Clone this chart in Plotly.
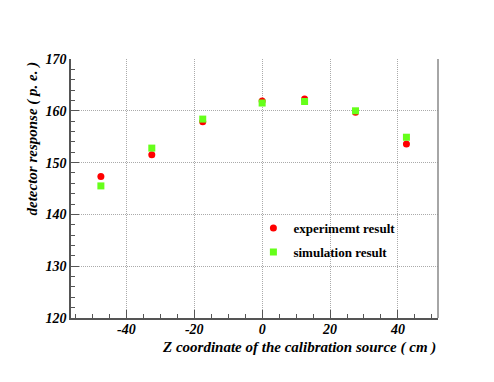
import plotly.graph_objects as go

z_pos = [-47.5, -32.5, -17.5, 0.0, 12.5, 27.5, 42.5]
experiment = [147.3, 151.5, 157.9, 161.9, 162.3, 159.7, 153.6]
simulation = [145.5, 152.8, 158.4, 161.5, 161.8, 160.0, 154.9]
x_tickvals = [-40, -20, 0, 20, 40]
x_ticktext = ["-40", "-20", "0", "20", "40"]

FONT = "Liberation Serif"

fig = go.Figure()
fig.add_trace(go.Scatter(x=z_pos, y=experiment, mode="markers", name="experimemt result",
                         legendgroup="a",
                         marker=dict(symbol="circle", size=7, color="#ff0000")))
fig.add_trace(go.Scatter(x=z_pos, y=simulation, mode="markers", name="simulation result",
                         legendgroup="b",
                         marker=dict(symbol="square", size=7, color="#66ff1a")))

tickfont = dict(family=FONT, size=14, color="black", weight="bold", style="italic")

fig.update_layout(
    width=494, height=382,
    margin=dict(l=71, r=56, t=59, b=64),
    paper_bgcolor="white", plot_bgcolor="white",
    showlegend=True,
    legend=dict(x=0.497, y=0.405, xanchor="left", yanchor="top",
                bgcolor="rgba(0,0,0,0)", itemwidth=30, tracegroupgap=4,
                font=dict(family=FONT, size=13, color="black", weight="bold")),
    xaxis=dict(range=[-56.3, 51.8], tickvals=x_tickvals, ticktext=x_ticktext,
               ticks="inside", ticklen=8, tickcolor="#555555",
               minor=dict(dtick=5, tick0=0, ticks="inside", ticklen=4, tickcolor="#555555", showgrid=False),
               showgrid=True, gridcolor="#aaaaaa", griddash="1px,1px", gridwidth=1,
               showline=True, linecolor="#555555", linewidth=1.5,
               zeroline=False, tickfont=tickfont, ticklabelstandoff=-3),
    yaxis=dict(range=[120, 170], dtick=10, tick0=120,
               ticks="inside", ticklen=8, tickcolor="#555555",
               minor=dict(dtick=2, ticks="inside", ticklen=4, tickcolor="#555555", showgrid=False),
               showgrid=True, gridcolor="#aaaaaa", griddash="1px,1px", gridwidth=1,
               showline=True, linecolor="#555555", linewidth=1.5,
               zeroline=False, tickfont=tickfont),
    shapes=[dict(type="line", xref="paper", yref="paper", x0=1, x1=1, y0=0, y1=1,
                 line=dict(color="#888888", width=1.5))],
    annotations=[
        dict(text="Z coordinate of the calibration source ( cm )", xref="paper", yref="paper",
             x=1, y=-0.075, xanchor="right", yanchor="top", showarrow=False,
             font=dict(family=FONT, size=15, color="black", weight="bold", style="italic")),
        dict(text="detector response ( p. e. )", xref="paper", yref="paper",
             x=-0.105, y=1.0, xanchor="center", yanchor="top", showarrow=False, textangle=-90,
             font=dict(family=FONT, size=15, color="black", weight="bold", style="italic")),
    ],
)

fig.write_html("out.html", config={"displayModeBar": False},
               post_script="document.body.style.margin='0';document.body.style.overflow='hidden';")
